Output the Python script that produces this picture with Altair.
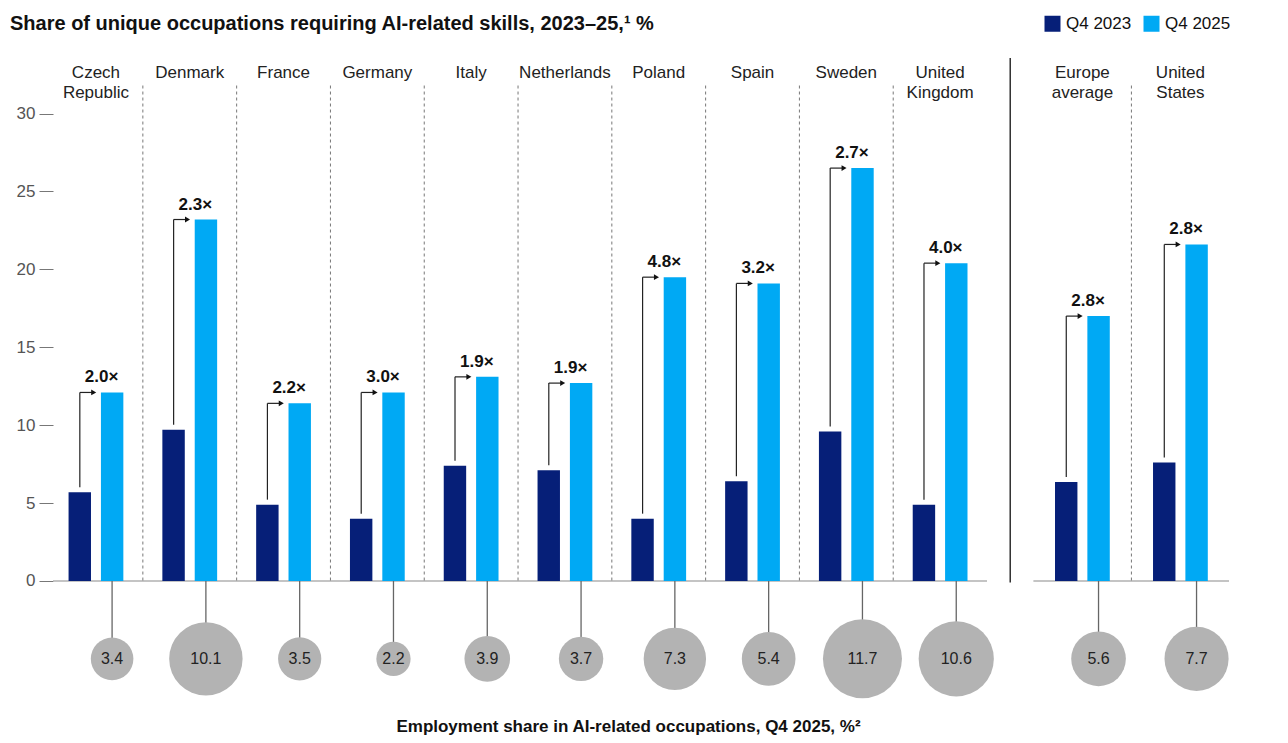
import altair as alt
import pandas as pd

# ---- data -------------------------------------------------------------
countries = [
    "Czech Republic", "Denmark", "France", "Germany", "Italy", "Netherlands",
    "Poland", "Spain", "Sweden", "United Kingdom", "Europe average", "United States",
]
display_names = [
    "Czech\nRepublic", "Denmark", "France", "Germany", "Italy", "Netherlands",
    "Poland", "Spain", "Sweden", "United\nKingdom", "Europe\naverage", "United\nStates",
]
q4_2023 = [5.7, 9.7, 4.9, 4.0, 7.4, 7.1, 4.0, 6.4, 9.6, 4.9, 6.35, 7.6]
q4_2025 = [12.1, 23.2, 11.4, 12.1, 13.1, 12.7, 19.5, 19.1, 26.5, 20.4, 17.0, 21.6]
growth_labels = ["2.0×", "2.3×", "2.2×", "3.0×", "1.9×", "1.9×",
                 "4.8×", "3.2×", "2.7×", "4.0×", "2.8×", "2.8×"]
employment_share = [3.4, 10.1, 3.5, 2.2, 3.9, 3.7, 7.3, 5.4, 11.7, 10.6, 5.6, 7.7]
periods = ["Q4 2023", "Q4 2025"]
period_colors = ["#061f78", "#00a9f4"]

N_COUNTRIES = 10          # first block: individual countries; then benchmarks

# ---- layout (x in "group" units, y in data units) -----------------------
X_MIN, X_MAX = 0.042, 12.58
Y_MIN, Y_MAX = -7.64, 34.08
BENCH_START, BENCH_STEP = 11.017, 1.045
BAR_IN, BAR_OUT = 0.053, 0.292   # bar edges relative to group centre
SERIES_OFF = 0.172               # centre of each bar relative to group centre
CIRCLE_Y = -5.0
LABEL_Y = 32.28
SEP_TOP = 31.8

FONT = "Liberation Sans"

pos = [i + 0.5 if i < N_COUNTRIES else BENCH_START + (i - N_COUNTRIES) * BENCH_STEP
       for i in range(len(countries))]

groups = pd.DataFrame({
    "country": countries,
    "name": display_names,
    "pos": pos,
    "q23": q4_2023,
    "q25": q4_2025,
    "growth": growth_labels,
    "share": employment_share,
})
groups["dark_c"] = groups["pos"] - SERIES_OFF
groups["light_c"] = groups["pos"] + SERIES_OFF
groups["arrow_lo"] = groups["q23"] + 0.32
groups["head_x"] = groups["pos"] - 0.024
groups["zero"] = 0.0
groups["circle_y"] = CIRCLE_Y
groups["label_y"] = LABEL_Y

bars = pd.DataFrame([
    {"country": c, "period": periods[0], "value": a, "x0": p - BAR_OUT, "x1": p - BAR_IN}
    for c, p, a in zip(countries, pos, q4_2023)
] + [
    {"country": c, "period": periods[1], "value": b, "x0": p + BAR_IN, "x1": p + BAR_OUT}
    for c, p, b in zip(countries, pos, q4_2025)
])

# separators: dashed between neighbours in a block, solid between blocks
dashed_x = [(pos[i] + pos[i + 1]) / 2 for i in range(len(pos) - 1) if i != N_COUNTRIES - 1]
dashed = pd.DataFrame({"x": dashed_x, "top": SEP_TOP, "bottom": 0.0})
block_end = pos[N_COUNTRIES - 1] + 0.5
bench_begin = pos[N_COUNTRIES] - BENCH_STEP / 2
solid = pd.DataFrame({"x": [(block_end + bench_begin) / 2], "top": [33.57], "bottom": [-0.1]})
baselines = pd.DataFrame({"x": [X_MIN, bench_begin], "x2": [block_end, X_MAX], "y": [0.0, 0.0]})

xscale = alt.Scale(domain=[X_MIN, X_MAX], nice=False, zero=False)
yscale = alt.Scale(domain=[Y_MIN, Y_MAX], nice=False, zero=False)

x_axis = alt.Axis(
    title="Employment share in AI-related occupations, Q4 2025, %²",
    labels=False, ticks=False, domain=False, grid=False,
    titleFont=FONT, titleFontSize=17, titleFontWeight="bold", titleColor="#111",
    titleX=575, titleY=31, titleBaseline="alphabetic", titleAlign="center",
)
y_axis = alt.Axis(
    values=[0, 5, 10, 15, 20, 25, 30], title=None, grid=False, domain=False,
    tickSize=14, tickColor="#777", tickWidth=1, labelPadding=4,
    labelFont=FONT, labelFontSize=17, labelColor="#555",
)


# every layer carries the same axis definition so the layered axes merge
def X(field):
    return alt.X(field, type="quantitative", scale=xscale, axis=x_axis)


def Y(field):
    return alt.Y(field, type="quantitative", scale=yscale, axis=y_axis)


base_line = alt.Chart(baselines).mark_rule(color="#b0b0b0", strokeWidth=1.6).encode(
    x=X("x"), x2="x2", y=Y("y")
)

dash_sep = alt.Chart(dashed).mark_rule(color="#777", strokeWidth=1, strokeDash=[3, 3]).encode(
    x=X("x"), y=Y("top"), y2="bottom"
)

solid_sep = alt.Chart(solid).mark_rule(color="#111", strokeWidth=1.3).encode(
    x=X("x"), y=Y("top"), y2="bottom"
)

bar_layer = alt.Chart(bars).mark_bar().encode(
    x=X("x0"), x2="x1", y=Y("value"), y2=alt.datum(0),
    color=alt.Color(
        "period:N",
        scale=alt.Scale(domain=periods, range=period_colors),
        legend=alt.Legend(
            title=None, orient="none", direction="horizontal",
            legendX=991, legendY=-35, symbolType="square", symbolSize=256,
            symbolStrokeWidth=0, symbolOpacity=1, labelFont=FONT, labelFontSize=17,
            labelColor="#111", labelOffset=5, columnPadding=11,
        ),
    ),
)

arrow_up = alt.Chart(groups).mark_rule(color="#222", strokeWidth=1.2).encode(
    x=X("dark_c"), y=Y("arrow_lo"), y2="q25"
)
arrow_across = alt.Chart(groups).mark_rule(color="#222", strokeWidth=1.2).encode(
    x=X("dark_c"), x2="head_x", y=Y("q25")
)
arrow_head = alt.Chart(groups).mark_point(
    shape="triangle-right", filled=True, color="#111", size=34, opacity=1
).encode(x=X("head_x"), y=Y("q25"))

growth_text = alt.Chart(groups).mark_text(
    align="left", baseline="alphabetic", dx=5, dy=-10,
    font=FONT, fontSize=17, fontWeight="bold", color="#111",
).encode(x=X("dark_c"), y=Y("q25"), text="growth:N")

name_text = alt.Chart(groups).mark_text(
    align="center", baseline="alphabetic", lineBreak="\n", lineHeight=20,
    font=FONT, fontSize=17, color="#222",
).encode(x=X("pos"), y=Y("label_y"), text="name:N")

stems = alt.Chart(groups).mark_rule(color="#666", strokeWidth=1.3).encode(
    x=X("light_c"), y=Y("zero"), y2="circle_y"
)

circles = alt.Chart(groups).mark_point(
    shape="circle", filled=True, color="#b3b3b3", opacity=1
).encode(
    x=X("light_c"), y=Y("circle_y"),
    size=alt.Size("share:Q", scale=alt.Scale(domain=[0, 12], range=[0, 6403]), legend=None),
)

circle_text = alt.Chart(groups).mark_text(
    align="center", baseline="middle", font=FONT, fontSize=16, color="#222"
).encode(x=X("light_c"), y=Y("circle_y"), text=alt.Text("share:Q", format=".1f"))

chart = alt.layer(
    base_line, dash_sep, solid_sep, bar_layer,
    arrow_up, arrow_across, arrow_head, growth_text, name_text,
    stems, circles, circle_text,
).properties(
    width=1176, height=650,
    background="white",
    autosize=alt.AutoSizeParams(type="none"),
    padding={"left": 53, "top": 50, "right": 59, "bottom": 43},
    title=alt.TitleParams(
        "Share of unique occupations requiring AI-related skills, 2023–25,¹ %",
        anchor="start", frame="group", dx=-43, dy=56, offset=21, baseline="alphabetic",
        font=FONT, fontSize=20, fontWeight="bold", color="#111",
    ),
).configure_view(stroke=None)

chart.save("out.html", embed_options={"renderer": "svg", "actions": False})
